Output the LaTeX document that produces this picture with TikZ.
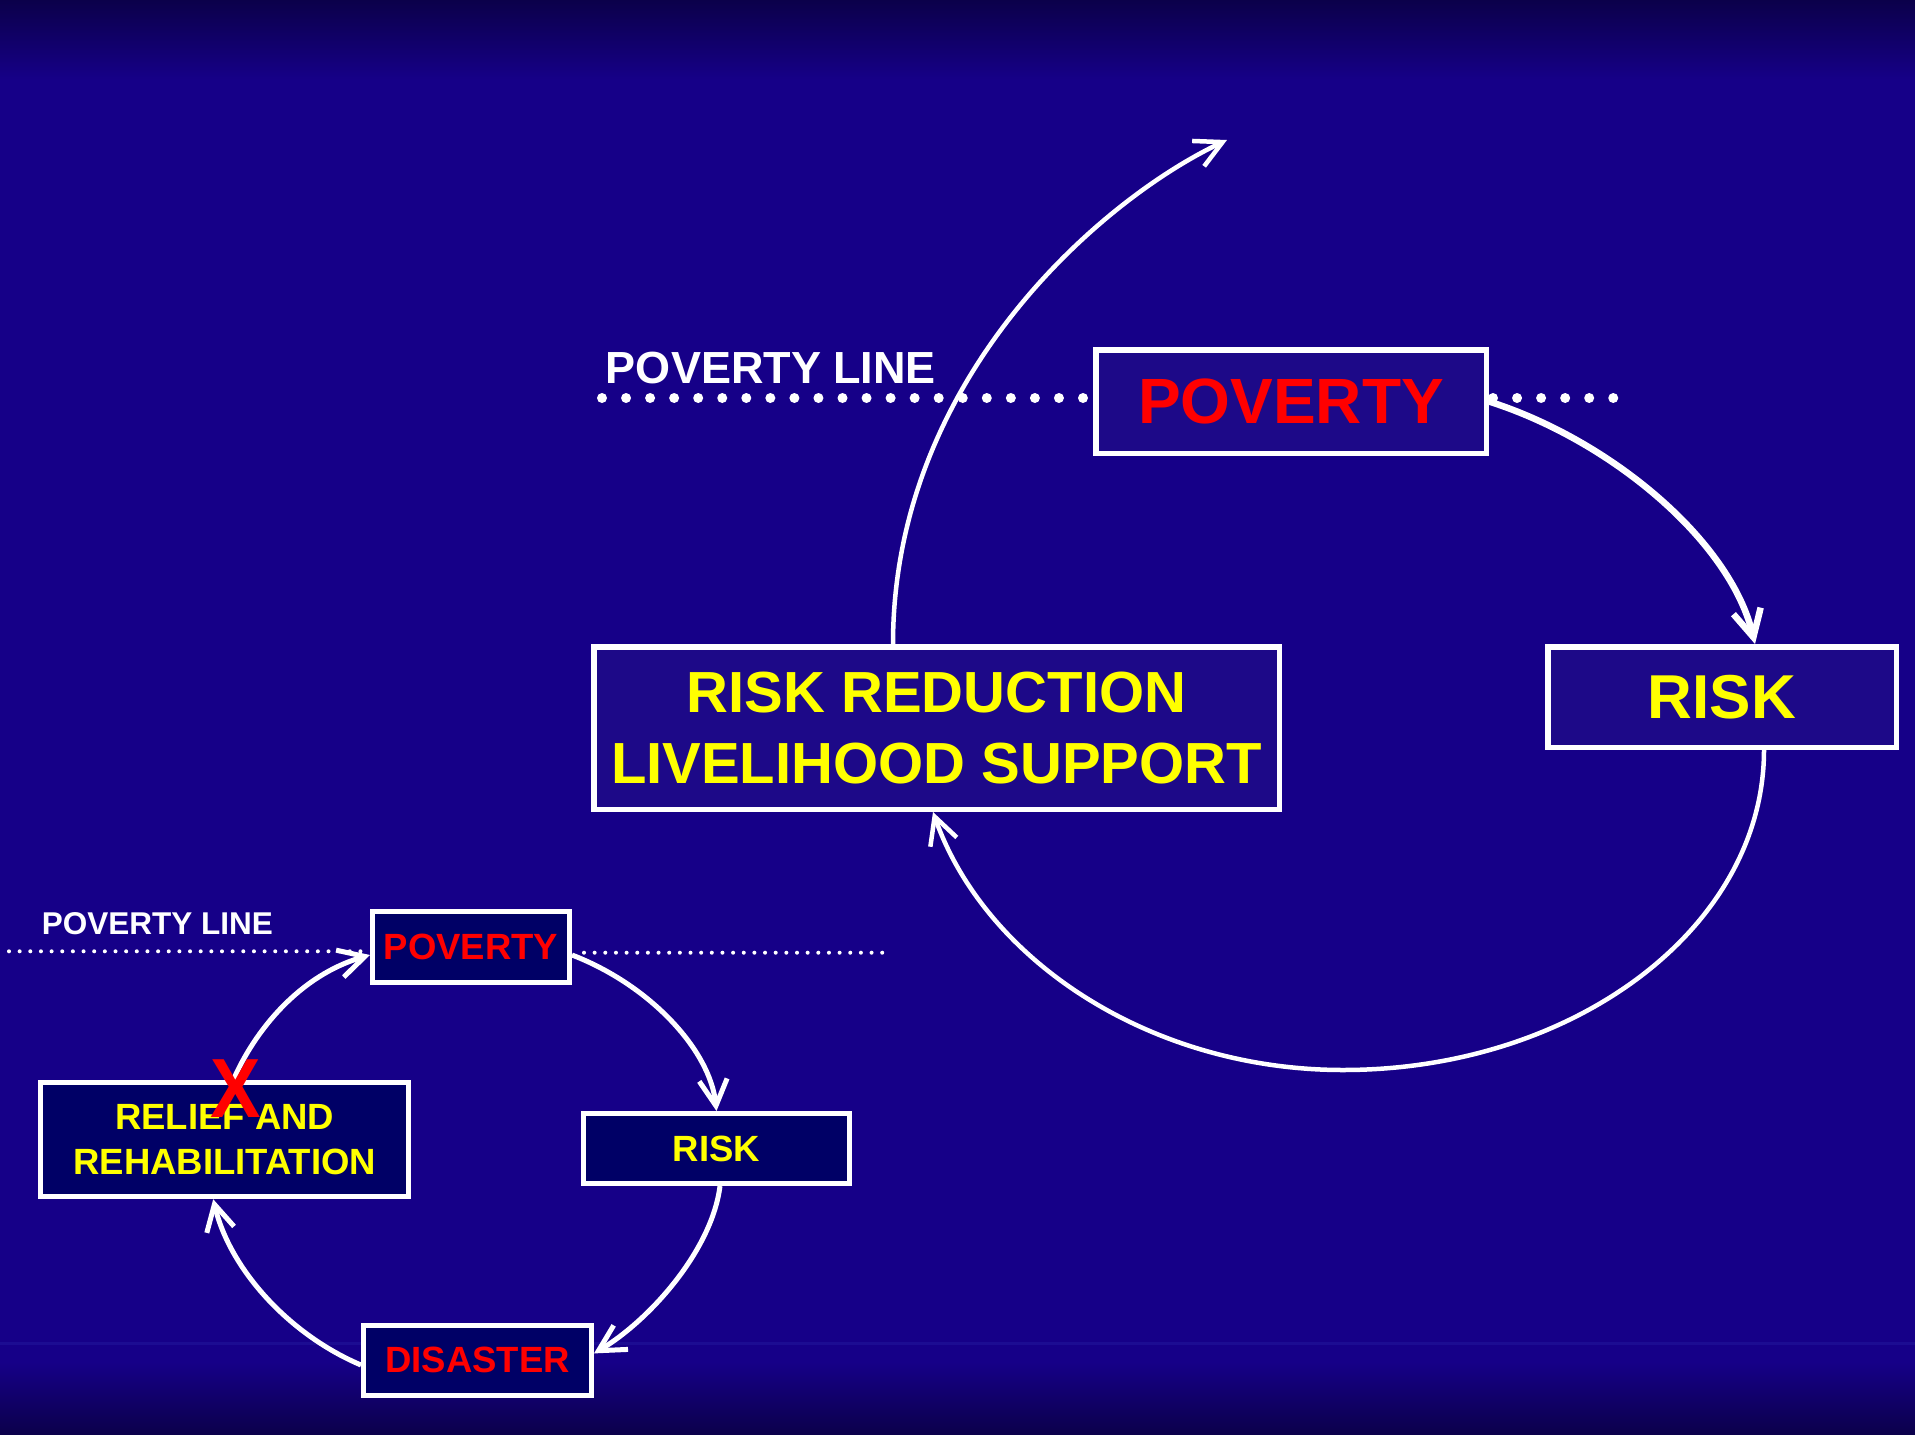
\documentclass[tikz,border=0pt]{standalone}
\usepackage{fontspec}
\setmainfont{Liberation Sans}
\usetikzlibrary{arrows.meta}
\definecolor{bgblue}{RGB}{22,0,136}
\definecolor{bgdark}{RGB}{11,0,74}
\definecolor{boxbig}{RGB}{29,9,136}
\definecolor{boxsmall}{RGB}{0,0,102}
\definecolor{pred}{RGB}{255,0,0}
\definecolor{pyellow}{RGB}{255,255,0}
\definecolor{faintline}{RGB}{28,12,146}
\begin{document}
\begin{tikzpicture}[x=1pt,y=-1pt,
  bigbox/.style={draw=white, line width=5.5pt, fill=boxbig, inner sep=0pt, align=center},
  smallbox/.style={draw=white, line width=5pt, fill=boxsmall, inner sep=0pt, align=center},
  label/.style={white, inner sep=0pt, anchor=base},
  arr/.style={draw=white, line width=4.5pt, -{Straight Barb[length=27pt,width=28pt]}},
  arrthick/.style={arr, line width=6.5pt},
  arrsmall/.style={arr, line width=5pt, -{Straight Barb[length=26pt,width=28pt]}},
  dotbig/.style={white, line width=10pt, line cap=round, dash pattern=on 0pt off 24.05pt},
  dotsmall/.style={white, line width=4pt, line cap=round, dash pattern=on 0pt off 10.65pt}
]
\useasboundingbox (0,0) rectangle (1915,1435);
% background
\fill[bgblue] (0,0) rectangle (1915,1435);
\shade[top color=bgdark, bottom color=bgblue] (0,0) rectangle (1915,80);
\shade[top color=bgblue, bottom color=bgdark] (0,1362) rectangle (1915,1435);
\draw[faintline, line width=3pt] (0,1343) -- (1915,1343);

% ---------- upper diagram ----------
\draw[dotbig] (602,398) -- (1086,398);
\draw[dotbig] (1493,398) -- (1616,398);

\node[label, font={\fontsize{45}{54}\selectfont\bfseries}] (plbig) at (771,383.5) {POVERTY LINE};

\node[bigbox, minimum width=390.5pt, minimum height=103.5pt,
      text=pred, font={\fontsize{64}{77}\selectfont\bfseries}] (pov) at (1291,401.5) {POVERTY};
\node[bigbox, minimum width=685.5pt, minimum height=162.5pt,
      text=pyellow, font={\fontsize{58}{71}\selectfont\bfseries}] (rr) at (936.5,728) {RISK REDUCTION\\LIVELIHOOD SUPPORT};
\node[bigbox, minimum width=348.5pt, minimum height=100.5pt,
      text=pyellow, font={\fontsize{62}{74}\selectfont\bfseries}] (risk) at (1722,697) {RISK};

\coordinate (topend) at (1227,140);
\draw[arr] ([xshift=-43.5pt]rr.north) .. controls (893,380) and (1100,200) .. (topend);
\draw[arrthick] (pov.east) .. controls (1610,440) and (1730,540) .. ([xshift=33pt]risk.north);
\draw[arr] ([xshift=42pt]risk.south) .. controls (1764,927) and (1575,1070) .. (1343,1070)
           .. controls (1150,1070) and (985,960) .. ([xshift=-3.5pt]rr.south);

% ---------- lower diagram ----------
\draw[dotsmall] (9,951.3) -- (366,951.3);
\draw[dotsmall] (584,952.7) -- (887,952.7);

\node[label, font={\fontsize{31.5}{38}\selectfont\bfseries}] (plsmall) at (157.3,934) {POVERTY LINE};

\node[smallbox, minimum width=197pt, minimum height=71pt,
      text=pred, font={\fontsize{36.5}{44}\selectfont\bfseries}] (povs) at (471,947) {POVERTY};
\node[smallbox, minimum width=266pt, minimum height=70pt,
      text=pyellow, font={\fontsize{36.5}{44}\selectfont\bfseries}] (risks) at (716.5,1148.5) {RISK};
\node[smallbox, minimum width=228pt, minimum height=70pt,
      text=pred, font={\fontsize{36.5}{44}\selectfont\bfseries}] (dis) at (477.5,1360.4) {DISASTER};
\node[smallbox, minimum width=368pt, minimum height=114pt,
      text=pyellow, font={\fontsize{36.5}{45}\selectfont\bfseries}] (relief) at (224.7,1139.7) {RELIEF AND\\REHABILITATION};

\draw[arrsmall] ([yshift=-8pt]povs.east) .. controls (650,985) and (710,1050) .. (risks.north);
\draw[arrsmall] ([xshift=3.5pt]risks.south) .. controls (712,1250) and (650,1320) .. ([yshift=7pt]dis.east);
\draw[arrsmall] ([yshift=-4.6pt]dis.west) .. controls (290,1335) and (230,1270) .. ([xshift=-11.5pt]relief.south);
\draw[arrsmall] ([xshift=8.5pt]relief.north) .. controls (255,1030) and (300,975) .. ([yshift=-8pt]povs.west);

\node[text=pred, inner sep=0pt, xscale=0.9, font={\fontsize{84}{90}\selectfont\bfseries}] (xmark) at (236,1089) {X};
\end{tikzpicture}
\end{document}
